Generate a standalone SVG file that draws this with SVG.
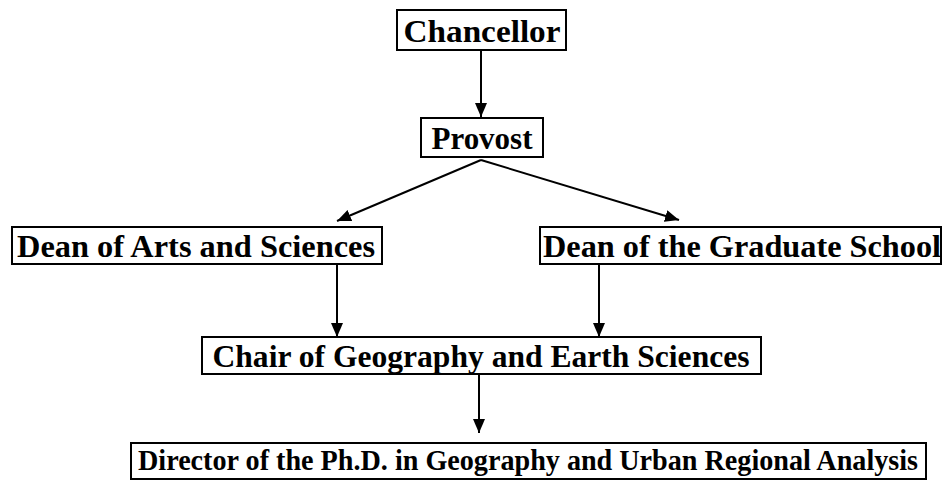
<svg xmlns="http://www.w3.org/2000/svg" width="943" height="480" viewBox="0 0 943 480">
<style>
.box{fill:#fff;stroke:#000;stroke-width:2}
.t{font-family:"Liberation Serif","Times New Roman",serif;font-weight:bold;font-size:32px;fill:#000;text-anchor:middle}
.c{stroke:#000;stroke-width:2;fill:none;marker-end:url(#ah)}
</style>
<defs>
<marker id="ah" viewBox="0 0 14 12" refX="14" refY="6" markerWidth="14" markerHeight="12" markerUnits="userSpaceOnUse" orient="auto">
<path d="M0,0 L14,6 L0,12 Z" fill="#000"/>
</marker>
</defs>
<g id="connectors">
<line class="c" x1="481" y1="51" x2="481" y2="117"/>
<line class="c" x1="481" y1="160" x2="337" y2="221"/>
<line class="c" x1="481" y1="160" x2="679" y2="220"/>
<line class="c" x1="337" y1="265" x2="337" y2="337"/>
<line class="c" x1="599" y1="265" x2="599" y2="337"/>
<line class="c" x1="479" y1="375" x2="479" y2="433"/>
</g>
<g id="chancellor"><rect class="box" x="397" y="10" width="169" height="40"/><text class="t" x="482" y="42" textLength="157" lengthAdjust="spacingAndGlyphs">Chancellor</text></g>
<g id="provost"><rect class="box" x="421" y="118" width="122" height="39"/><text class="t" x="482" y="149" textLength="101" lengthAdjust="spacingAndGlyphs">Provost</text></g>
<g id="dean-arts"><rect class="box" x="12" y="227" width="370" height="37"/><text class="t" x="196" y="257" textLength="358" lengthAdjust="spacingAndGlyphs">Dean of Arts and Sciences</text></g>
<g id="dean-grad"><rect class="box" x="540" y="227" width="401" height="37"/><text class="t" x="742" y="257" textLength="398" lengthAdjust="spacingAndGlyphs">Dean of the Graduate School</text></g>
<g id="chair"><rect class="box" x="202" y="337" width="559" height="37"/><text class="t" x="481" y="367" textLength="537" lengthAdjust="spacingAndGlyphs">Chair of Geography and Earth Sciences</text></g>
<g id="director"><rect class="box" x="131" y="443" width="795" height="36"/><text class="t" x="528" y="470" style="font-size:30px" textLength="780" lengthAdjust="spacingAndGlyphs">Director of the Ph.D. in Geography and Urban Regional Analysis</text></g>
</svg>
